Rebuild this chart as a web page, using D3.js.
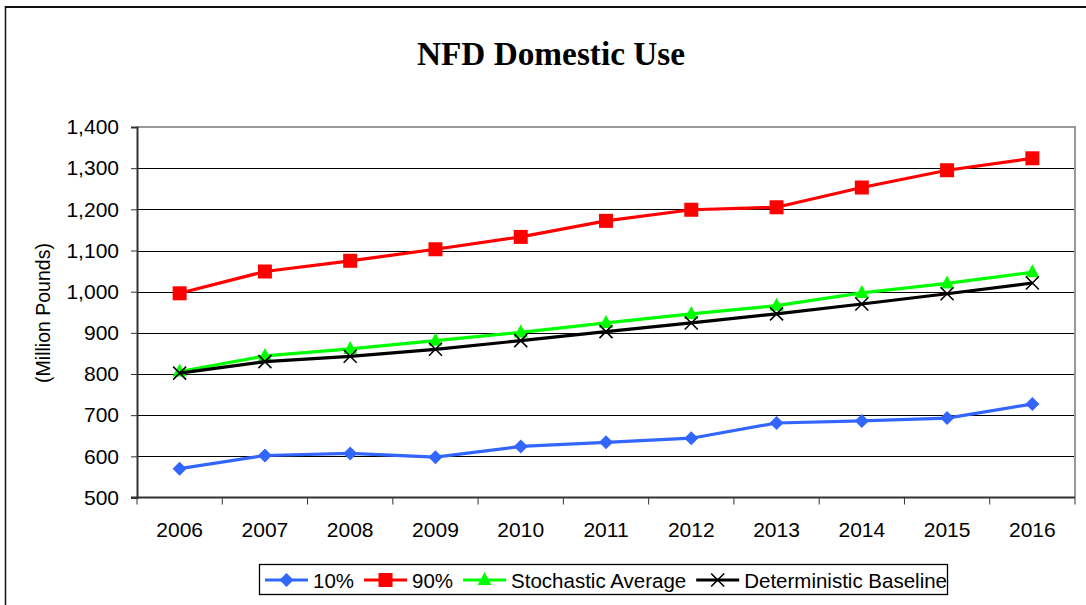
<!DOCTYPE html>
<html>
<head>
<meta charset="utf-8">
<script src="https://cdn.jsdelivr.net/npm/d3@7"></script>
<style>
  html, body { margin: 0; padding: 0; background: #fff; }
  svg { display: block; }
</style>
</head>
<body>
<svg id="chart" width="1086" height="605"></svg>
<script>
// ---- data ----
const years = ["2006","2007","2008","2009","2010","2011","2012","2013","2014","2015","2016"];
const p10 = [570, 602, 607, 598, 624, 634, 644, 681, 686, 693, 727];
const p90 = [996, 1049, 1075, 1103, 1133, 1172, 1199, 1205, 1253, 1295, 1324];
const stochasticAverage = [806, 844, 861, 881, 901, 924, 946, 966, 997, 1020, 1047];
const deterministicBaseline = [802, 830, 843, 860, 881, 903, 924, 946, 970, 995, 1021];
const yTicks = [500, 600, 700, 800, 900, 1000, 1100, 1200, 1300, 1400];
const seriesNames = ["10%", "90%", "Stochastic Average", "Deterministic Baseline"];

const series = [
  { name: seriesNames[0], values: p10, color: "#3366FF", marker: "diamond" },
  { name: seriesNames[1], values: p90, color: "#FF0000", marker: "square" },
  { name: seriesNames[2], values: stochasticAverage, color: "#00FF00", marker: "triangle" },
  { name: seriesNames[3], values: deterministicBaseline, color: "#000000", marker: "x" }
];

const svg = d3.select("#chart");
const L = 137, R = 1075, T = 127, B = 497.5;

const x = d3.scaleBand().domain(years).range([L, R]);
const y = d3.scaleLinear().domain([500, 1400]).range([B, T]);
const cx = d => x(d) + x.bandwidth() / 2;

// outer frame (partial, as in the cropped reference)
svg.append("line").attr("x1", 5).attr("x2", 1086).attr("y1", 7).attr("y2", 7)
  .attr("stroke", "#111").attr("stroke-width", 2);
svg.append("line").attr("x1", 5.5).attr("x2", 5.5).attr("y1", 6).attr("y2", 605)
  .attr("stroke", "#111").attr("stroke-width", 1.5);

// title
svg.append("text").attr("x", 551).attr("y", 65).attr("text-anchor", "middle")
  .attr("font-family", "'Liberation Serif', 'Times New Roman', serif")
  .attr("font-weight", "bold").attr("font-size", 33.3).attr("fill", "#000")
  .text("NFD Domestic Use");

// gridlines
svg.append("g").selectAll("line").data(yTicks.filter(v => v > 500 && v < 1400)).join("line")
  .attr("x1", L).attr("x2", R).attr("y1", d => Math.round(y(d)) + 0.5).attr("y2", d => Math.round(y(d)) + 0.5)
  .attr("stroke", "#000").attr("stroke-width", 1);

// plot border top & right
svg.append("path")
  .attr("d", `M${L},${T}H${R}V${B}`)
  .attr("fill", "none").attr("stroke", "#999").attr("stroke-width", 2);

// y axis
const yAxis = d3.axisLeft(y).tickValues(yTicks).tickFormat(d3.format(",")).tickSize(6).tickPadding(12);
const gy = svg.append("g").attr("transform", `translate(${L},0)`).call(yAxis);
gy.select(".domain").attr("stroke", "#333").attr("stroke-width", 2);
gy.selectAll(".tick line").attr("stroke", "#333").attr("stroke-width", 1);
gy.selectAll(".tick text").attr("font-family", "'Liberation Sans', Arial, sans-serif")
  .attr("font-size", 21).attr("fill", "#000");

// x axis (labels at centers, ticks at category boundaries)
const xAxis = d3.axisBottom(x).tickSize(0).tickPadding(25);
const gx = svg.append("g").attr("transform", `translate(0,${B})`).call(xAxis);
gx.select(".domain").remove();
gx.selectAll(".tick text").attr("font-family", "'Liberation Sans', Arial, sans-serif")
  .attr("font-size", 21).attr("fill", "#000");
const bounds = years.map(d => x(d)).concat([x(years[years.length - 1]) + x.bandwidth()]);
svg.append("g").selectAll("line").data(bounds).join("line")
  .attr("x1", d => d).attr("x2", d => d).attr("y1", B).attr("y2", B + 7)
  .attr("stroke", "#333").attr("stroke-width", 1);
svg.append("line").attr("x1", L - 6).attr("x2", R).attr("y1", B).attr("y2", B)
  .attr("stroke", "#333").attr("stroke-width", 2);

// y label
svg.append("text").attr("transform", `translate(50,313) rotate(-90)`)
  .attr("text-anchor", "middle")
  .attr("font-family", "'Liberation Sans', Arial, sans-serif").attr("font-size", 19.5).attr("fill", "#000")
  .text("(Million Pounds)");

// markers
function drawMarker(g, type, color, px, py) {
  if (type === "diamond") {
    g.append("path").attr("d", `M${px},${py-7}L${px+7},${py}L${px},${py+7}L${px-7},${py}Z`).attr("fill", color);
  } else if (type === "square") {
    g.append("rect").attr("x", px - 7).attr("y", py - 7).attr("width", 14).attr("height", 14).attr("fill", color);
  } else if (type === "triangle") {
    g.append("path").attr("d", `M${px},${py-8}L${px+7},${py+5}L${px-7},${py+5}Z`).attr("fill", color);
  } else if (type === "x") {
    g.append("path").attr("d", `M${px-6.5},${py-6.5}L${px+6.5},${py+6.5}M${px+6.5},${py-6.5}L${px-6.5},${py+6.5}`)
      .attr("stroke", color).attr("stroke-width", 1.6).attr("fill", "none");
  }
}

const line = d3.line().x((d, i) => cx(years[i])).y(d => y(d));
series.forEach(s => {
  const g = svg.append("g");
  g.append("path").attr("d", line(s.values)).attr("fill", "none")
    .attr("stroke", s.color).attr("stroke-width", 3.2).attr("stroke-linejoin", "round");
  s.values.forEach((v, i) => drawMarker(g, s.marker, s.color, cx(years[i]), y(v)));
});

// legend
const lg = svg.append("g");
lg.append("rect").attr("x", 259.5).attr("y", 564.5).attr("width", 688).attr("height", 30)
  .attr("fill", "#fff").attr("stroke", "#000").attr("stroke-width", 1.3);
let lx = 265;
const ly = 580;
series.forEach(s => {
  const g = lg.append("g");
  g.append("line").attr("x1", lx).attr("x2", lx + 43).attr("y1", ly).attr("y2", ly)
    .attr("stroke", s.color).attr("stroke-width", 3.2);
  drawMarker(g, s.marker, s.color, lx + 21.5, ly);
  const t = g.append("text").attr("x", lx + 48).attr("y", ly + 7.5)
    .attr("font-family", "'Liberation Sans', Arial, sans-serif").attr("font-size", 20.5).attr("fill", "#000")
    .text(s.name);
  lx = lx + 48 + t.node().getComputedTextLength() + 10;
});
</script>
</body>
</html>
